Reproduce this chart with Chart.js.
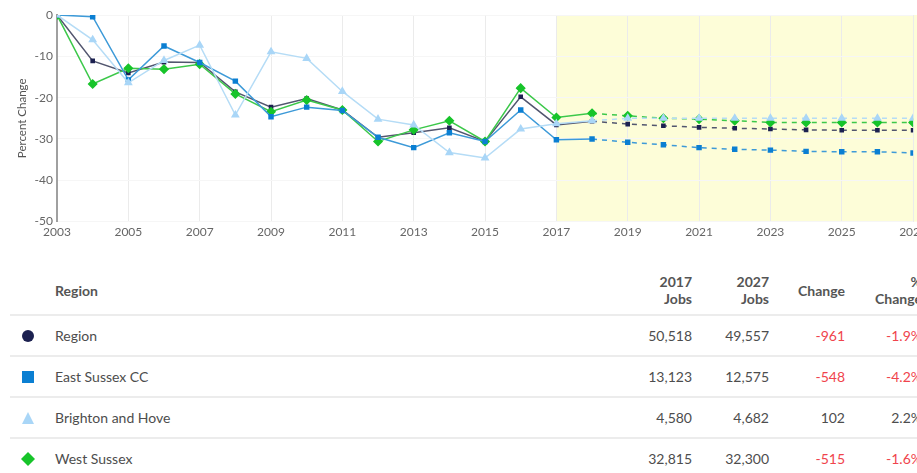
<!DOCTYPE html>
<html>
<head>
<meta charset="utf-8">
<script src="https://cdn.jsdelivr.net/npm/chart.js@4/dist/chart.umd.min.js"></script>
<style>
  body { margin: 0; background: #fff; overflow: hidden; font-family: Lato, sans-serif; }
  .wrap { width: 940px; }
  .chart-box { position: relative; width: 930px; height: 242px; }
  table { border-collapse: collapse; table-layout: fixed; margin: 24px 0 0 10px; width: 912px; color: #4d4d4d; font-size: 14px; }
  th { font-weight: bold; color: #555; height: 48px; border-bottom: 2px solid #ececec; line-height: 17px; padding: 0; }
  td { height: 39px; border-bottom: 2px solid #ececec; padding: 0; }
  .num { text-align: right; }
  .neg { color: #f0444c; }
  .name { text-align: left; padding-left: 10px; }
  .icon { text-align: center; }
  .icon svg { display: block; margin: 0 auto; }
</style>
</head>
<body>
<div class="wrap">
  <div class="chart-box"><canvas id="lineChart"></canvas></div>
  <table id="jobsTable">
    <colgroup>
      <col style="width:35px"><col style="width:575px"><col style="width:72px">
      <col style="width:77px"><col style="width:76px"><col style="width:77px">
    </colgroup>
    <thead>
      <tr><th></th><th class="name">Region</th><th class="num">2017<br>Jobs</th><th class="num">2027<br>Jobs</th><th class="num">Change</th><th class="num">%<br>Change</th></tr>
    </thead>
    <tbody></tbody>
  </table>
</div>
<script>
const years = [2003, 2004, 2005, 2006, 2007, 2008, 2009, 2010, 2011, 2012, 2013, 2014, 2015,
               2016, 2017, 2018, 2019, 2020, 2021, 2022, 2023, 2024, 2025, 2026, 2027];

const regionValues = [0, -11.1, -14.0, -11.4, -11.5, -18.6, -22.3, -20.2, -23.0, -29.6, -28.5, -27.3, -30.6,
                      -19.8, -26.6, -25.7, -26.4, -26.8, -27.2, -27.4, -27.6, -27.8, -27.9, -27.9, -27.9];
const eastSussexValues = [0, -0.4, -15.7, -7.5, -11.5, -16.0, -24.6, -22.3, -23.1, -29.6, -32.1, -28.5, -30.6,
                          -23.0, -30.2, -30.0, -30.8, -31.4, -32.1, -32.5, -32.7, -33.0, -33.1, -33.1, -33.4];
const brightonValues = [0, -6.0, -16.4, -11.0, -7.3, -24.2, -8.9, -10.5, -18.5, -25.2, -26.6, -33.3, -34.6,
                        -27.6, -26.3, -25.6, -25.0, -25.0, -25.0, -25.0, -25.0, -25.0, -25.0, -25.0, -25.0];
const westSussexValues = [0, -16.7, -12.9, -13.1, -11.9, -19.1, -23.4, -20.6, -23.0, -30.6, -27.8, -25.6, -30.6,
                          -17.7, -24.8, -23.8, -24.4, -25.0, -25.2, -25.6, -26.0, -26.0, -26.0, -26.0, -26.0];

const forecastStart = 2017;
const dashFrom = 2018;

// table rows
const regionNames = ['Region', 'East Sussex CC', 'Brighton and Hove', 'West Sussex'];
const jobs2017 = [50518, 13123, 4580, 32815];
const jobs2027 = [49557, 12575, 4682, 32300];
const jobsChange = [-961, -548, 102, -515];
const pctChange = ['-1.9%', '-4.2%', '2.2%', '-1.6%'];

const colors = {
    line: ['#52566f', '#3d9ad8', '#b5dcf6', '#3cc84a'],
    point: ['#1c2150', '#0b7fd2', '#a9d6f7', '#17c42a']
};
const pointStyles = ['rect', 'rect', 'triangle', 'rectRot'];
const pointRadii = [2.2, 2.8, 3.6, 4];

function makeDataset(i, values) {
    return {
        label: regionNames[i],
        data: years.map((y, k) => ({ x: y, y: values[k] })),
        borderColor: colors.line[i],
        backgroundColor: colors.point[i],
        pointBorderColor: colors.point[i],
        pointBackgroundColor: colors.point[i],
        pointStyle: pointStyles[i],
        pointRadius: pointRadii[i],
        borderWidth: 1.5,
        tension: 0,
        segment: {
            borderDash: (ctx) => ctx.p0.parsed.x >= dashFrom ? [5, 5] : undefined
        }
    };
}

const forecastBand = {
    id: 'forecastBand',
    beforeDraw(chart) {
        let x = chart.scales.x;
        let area = chart.chartArea;
        let left = x.getPixelForValue(forecastStart);
        chart.ctx.save();
        chart.ctx.fillStyle = '#fdfdd8';
        chart.ctx.fillRect(left, area.top, chart.width - left, area.bottom - area.top);
        chart.ctx.restore();
    }
};

new Chart(document.getElementById('lineChart').getContext('2d'), {
    type: 'line',
    data: {
        datasets: [
            makeDataset(2, brightonValues),
            makeDataset(1, eastSussexValues),
            makeDataset(3, westSussexValues),
            makeDataset(0, regionValues)
        ]
    },
    options: {
        responsive: true,
        maintainAspectRatio: false,
        animation: false,
        layout: { padding: { top: 15, right: 0, bottom: 0, left: 0 } },
        plugins: { legend: { display: false }, tooltip: { enabled: false } },
        scales: {
            x: {
                type: 'linear',
                min: 2003,
                max: 2027,
                ticks: { stepSize: 2, color: '#666', font: { family: 'Lato', size: 12 }, padding: 3,
                         callback: (v) => String(v) },
                grid: { color: '#ebebeb', drawTicks: false },
                border: { display: false }
            },
            y: {
                min: -50,
                max: 0,
                ticks: { stepSize: 10, color: '#666', font: { family: 'Lato', size: 12 }, padding: 4 },
                grid: { color: '#f6f6f6', drawTicks: false },
                border: { display: true, color: '#a0a0a0', width: 2 },
                title: { display: true, text: 'Percent Change', color: '#555', font: { family: 'Lato', size: 11.5 },
                         padding: { top: 15, bottom: 0 } },
                afterFit: (scale) => { scale.width = 57; }
            }
        }
    },
    plugins: [forecastBand]
});

function iconSvg(i) {
    let c = colors.point[i];
    let shapes = [
        '<circle cx="7" cy="7" r="6" fill="' + c + '"/>',
        '<rect x="1" y="1" width="12" height="12" fill="' + c + '"/>',
        '<polygon points="7,1 13,13 1,13" fill="' + c + '"/>',
        '<polygon points="7,0 14,7 7,14 0,7" fill="' + c + '"/>'
    ];
    return '<svg width="14" height="14">' + shapes[i] + '</svg>';
}

let tbody = document.querySelector('#jobsTable tbody');
regionNames.forEach((name, i) => {
    let cls = jobsChange[i] < 0 ? 'num neg' : 'num';
    let tr = document.createElement('tr');
    tr.innerHTML = '<td class="icon">' + iconSvg(i) + '</td>' +
        '<td class="name">' + name + '</td>' +
        '<td class="num">' + jobs2017[i].toLocaleString('en-GB') + '</td>' +
        '<td class="num">' + jobs2027[i].toLocaleString('en-GB') + '</td>' +
        '<td class="' + cls + '">' + jobsChange[i] + '</td>' +
        '<td class="' + cls + '">' + pctChange[i] + '</td>';
    tbody.appendChild(tr);
});
</script>
</body>
</html>
